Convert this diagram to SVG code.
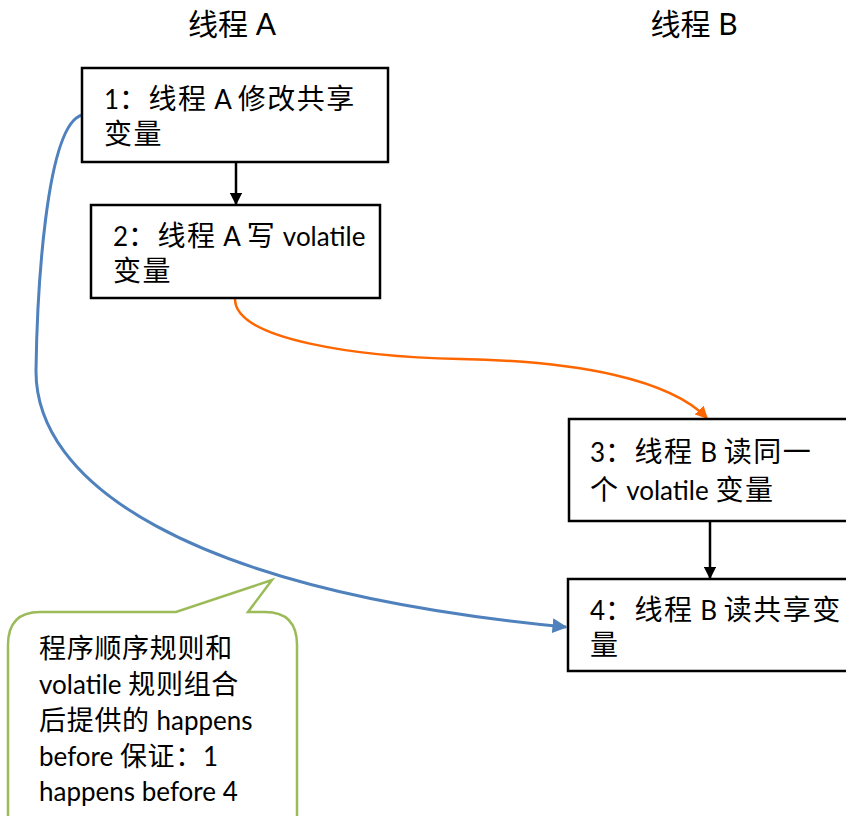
<svg xmlns="http://www.w3.org/2000/svg" width="846" height="816" viewBox="0 0 846 816">
<defs>
<style>
.t{font-family:"Lato","Noto Sans CJK SC",sans-serif;font-size:26px;fill:#000}
.c{font-size:28px;letter-spacing:1.5px}
.d{font-size:27px;letter-spacing:0.7px}
.h{font-family:"Lato","Noto Sans CJK SC",sans-serif;font-size:30px;fill:#000}
.box{fill:#fff;stroke:#000;stroke-width:2.5}
</style>
<marker id="ab" viewBox="0 0 10 10" refX="9" refY="5" markerWidth="5" markerHeight="5" orient="auto"><path d="M0,0L10,5L0,10z" fill="#000"/></marker>
<marker id="ao" viewBox="0 0 10 10" refX="9" refY="5" markerWidth="5" markerHeight="5" orient="auto"><path d="M0,0L10,5L0,10z" fill="#FF6600"/></marker>
<marker id="abl" viewBox="0 0 10 10" refX="9" refY="5" markerWidth="5" markerHeight="5" orient="auto"><path d="M0,0L10,5L0,10z" fill="#4F81BD"/></marker>
</defs>
<rect width="846" height="816" fill="#fff"/>
<text class="h" x="232" y="35" text-anchor="middle">线程 A</text>
<text class="h" x="694" y="35" text-anchor="middle">线程 B</text>
<g id="callout">
<path d="M40,612 L176,612 L272,580 L248,612 L265,612 Q297,612 297,645 L297,830 L8,830 L8,645 Q8,612 40,612 Z" fill="#fff" stroke="#9BBB59" stroke-width="2.5"/>
<text class="t"><tspan x="39" y="658"><tspan class="d">程序顺序规则和</tspan></tspan><tspan x="39" y="694">volatile <tspan class="d">规则组合</tspan></tspan><tspan x="39" y="730"><tspan class="d">后提供的</tspan> happens</tspan><tspan x="39" y="766">before <tspan class="d">保证：</tspan>1</tspan><tspan x="39" y="801">happens before 4</tspan></text>
</g>
<g id="connectors" fill="none">
<path d="M236,162 L236,204" stroke="#000" stroke-width="2.5" marker-end="url(#ab)"/>
<path d="M710,521 L710,578" stroke="#000" stroke-width="2.5" marker-end="url(#ab)"/>
<path d="M235,299 C235,340 360,357 460,359 C580,361 670,380 707,418" stroke="#FF6600" stroke-width="2.5" marker-end="url(#ao)"/>
<path d="M82,115 C45,125 37,300 36,370 C35,480 180,590 566,627" stroke="#4F81BD" stroke-width="3" marker-end="url(#abl)"/>
</g>
<g id="n1"><rect class="box" x="82" y="68" width="306" height="94"/><text class="t"><tspan x="104" y="109">1<tspan class="c">：线程</tspan> A <tspan class="c">修改共享</tspan></tspan><tspan x="104" y="144"><tspan class="c">变量</tspan></tspan></text></g>
<g id="n2"><rect class="box" x="91" y="205" width="289" height="93"/><text class="t"><tspan x="113" y="246">2<tspan class="c">：线程</tspan> A <tspan class="c">写</tspan> volatile</tspan><tspan x="113" y="281"><tspan class="c">变量</tspan></tspan></text></g>
<g id="n3"><rect class="box" x="569" y="419" width="290" height="102"/><text class="t"><tspan x="590" y="462">3<tspan class="c">：线程</tspan> B <tspan class="c">读同一</tspan></tspan><tspan x="590" y="500"><tspan class="c">个</tspan> volatile <tspan class="c">变量</tspan></tspan></text></g>
<g id="n4"><rect class="box" x="568" y="579" width="290" height="92"/><text class="t"><tspan x="590" y="620">4<tspan class="c">：线程</tspan> B <tspan class="c">读共享变</tspan></tspan><tspan x="590" y="655"><tspan class="c">量</tspan></tspan></text></g>
</svg>
